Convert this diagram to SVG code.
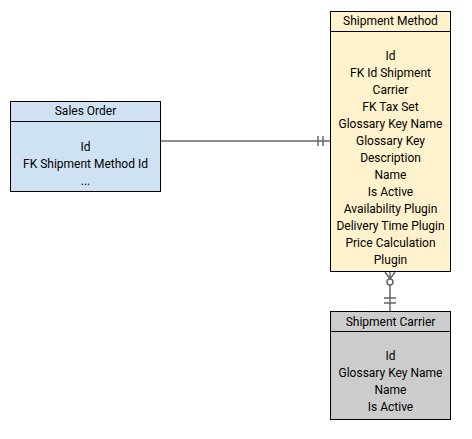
<svg xmlns="http://www.w3.org/2000/svg" width="472" height="439" viewBox="0 0 472 439">
<style>
  .box { stroke: #000; stroke-width: 1; }
  .div { stroke: #000; stroke-width: 1; }
  text { font-family: Roboto, "Liberation Sans", sans-serif; font-size: 12px; fill: #000; text-anchor: middle; }
  .conn { stroke: #666; stroke-width: 1.5; fill: none; }
</style>
<rect width="472" height="439" fill="#fff"/>
<g id="connectors">
  <path class="conn" d="M160 141 H330"/>
  <path class="conn" d="M318 136 V146 M323 136 V146"/>
  <path class="conn" d="M390 272 V311"/>
  <path class="conn" d="M385 272 L390 279 L395 272"/>
  <circle cx="390" cy="282" r="3" fill="#fff" stroke="#666" stroke-width="1.5"/>
  <path class="conn" d="M384 298 H396 M384 303 H396"/>
</g>
<g id="sales-order">
  <rect class="box" x="10.5" y="101.5" width="150" height="90" fill="#cfe2f3"/>
  <line class="div" x1="10.5" y1="121.5" x2="160.5" y2="121.5"/>
  <text x="85.5" y="115">Sales Order</text>
  <text x="85.5" y="151">Id</text>
  <text x="85.5" y="168">FK Shipment Method Id</text>
  <text x="85.5" y="185">...</text>
</g>
<g id="shipment-method">
  <rect class="box" x="330.5" y="11.5" width="120" height="260" fill="#fff2cc"/>
  <line class="div" x1="330.5" y1="31.5" x2="450.5" y2="31.5"/>
  <text x="390.5" y="25">Shipment Method</text>
  <text x="390.5" y="60">Id</text>
  <text x="390.5" y="77">FK Id Shipment</text>
  <text x="390.5" y="94">Carrier</text>
  <text x="390.5" y="111">FK Tax Set</text>
  <text x="390.5" y="128">Glossary Key Name</text>
  <text x="390.5" y="145">Glossary Key</text>
  <text x="390.5" y="162">Description</text>
  <text x="390.5" y="179">Name</text>
  <text x="390.5" y="196">Is Active</text>
  <text x="390.5" y="213">Availability Plugin</text>
  <text x="390.5" y="230">Delivery Time Plugin</text>
  <text x="390.5" y="247">Price Calculation</text>
  <text x="390.5" y="264">Plugin</text>
</g>
<g id="shipment-carrier">
  <rect class="box" x="330.5" y="311.5" width="120" height="108" fill="#cccccc"/>
  <line class="div" x1="330.5" y1="331.5" x2="450.5" y2="331.5"/>
  <text x="390.5" y="325.5">Shipment Carrier</text>
  <text x="390.5" y="360">Id</text>
  <text x="390.5" y="377">Glossary Key Name</text>
  <text x="390.5" y="394">Name</text>
  <text x="390.5" y="411">Is Active</text>
</g>
</svg>
